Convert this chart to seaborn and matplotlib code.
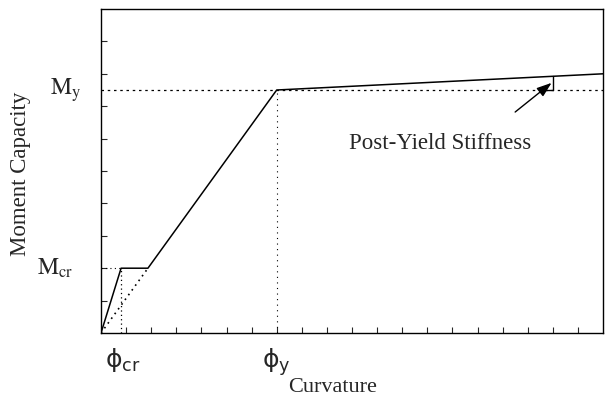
import matplotlib
matplotlib.use("Agg")
import matplotlib.pyplot as plt
import seaborn as sns
import numpy as np
import pandas as pd

# data (curvature, moment in arbitrary units)
curvature = [0.0, 0.8, 1.87, 7.0, 20.0]
moment = [0.0, 2.0, 2.0, 7.5, 8.0]
phi_cr, phi_y = 0.8, 7.0
m_cr, m_y = 2.0, 7.5
bracket_x = 18.0

sns.set_style("ticks")
plt.rcParams['font.family'] = ['Liberation Serif', 'DejaVu Serif']

fig = plt.figure(figsize=(6.05, 3.98), dpi=100)
ax = fig.add_axes([101/605, 65/398, 502/605, 324/398])

df = pd.DataFrame({"curvature": curvature, "moment": moment})
sns.lineplot(data=df, x="curvature", y="moment", ax=ax, color="black", lw=1.1,
             sort=False, estimator=None)

# reference dotted lines
ax.plot([0, 20], [m_y, m_y], ls=(0, (2, 3)), color="black", lw=0.9)
ax.plot([phi_y, phi_y], [0, m_y], ls=(0, (1, 4)), color="black", lw=0.8)
ax.plot([0, phi_cr], [m_cr, m_cr], ls=(0, (1, 3)), color="black", lw=0.8)
ax.plot([phi_cr, phi_cr], [0, m_cr], ls=(0, (1, 2.5)), color="black", lw=0.9)
ax.plot([0, curvature[2]], [0, moment[2]], ls=(0, (1, 2.5)), color="black", lw=1.2)

# bracket showing post-yield stiffness
m_b = np.interp(bracket_x, curvature, moment)
ax.plot([bracket_x, bracket_x], [m_y, m_b], color="black", lw=1.0)
ax.plot([bracket_x - 0.35, bracket_x], [m_y, m_y], color="black", lw=1.0)

ax.annotate("", xy=(bracket_x - 0.05, 7.72), xytext=(16.5, 6.82),
            arrowprops=dict(arrowstyle="-|>,head_length=0.9,head_width=0.32",
                            color="black", lw=1.0, shrinkA=0, shrinkB=0))
ax.text(13.5, 5.86, "Post-Yield Stiffness", ha="center", va="center", fontsize=16.5)

ax.set_xlim(0, 20)
ax.set_ylim(0, 10)
ax.set_xticks(np.arange(1, 20), minor=True)
ax.set_yticks(np.arange(1, 10), minor=True)
ax.set_xticks([])
ax.set_yticks([])
ax.tick_params(which="minor", direction="in", length=4, width=0.8)
for s in ax.spines.values():
    s.set_linewidth(1.0)
    s.set_color("black")

# tick-like labels
ax.text(phi_cr + 0.05, -0.4, r"$\mathrm{ϕ}_{\mathrm{cr}}$", ha="center", va="top",
        fontsize=18, math_fontfamily="dejavusans", clip_on=False)
ax.text(phi_y, -0.4, r"$\mathrm{ϕ}_{\mathrm{y}}$", ha="center", va="top",
        fontsize=18, math_fontfamily="dejavusans", clip_on=False)
ax.text(-1.4, m_y, r"$\mathrm{M}_{\mathrm{y}}$", ha="center", va="center", fontsize=17,
        math_fontfamily="stix", clip_on=False)
ax.text(-1.83, m_cr, r"$\mathrm{M}_{\mathrm{cr}}$", ha="center", va="center", fontsize=17,
        math_fontfamily="stix", clip_on=False)

ax.set_xlabel("Curvature", fontsize=16)
ax.set_ylabel("Moment Capacity", fontsize=16.5)
ax.xaxis.set_label_coords(0.462, -0.138)
ax.yaxis.set_label_coords(-0.14, 0.49)

fig.savefig("out.png", dpi=100)
